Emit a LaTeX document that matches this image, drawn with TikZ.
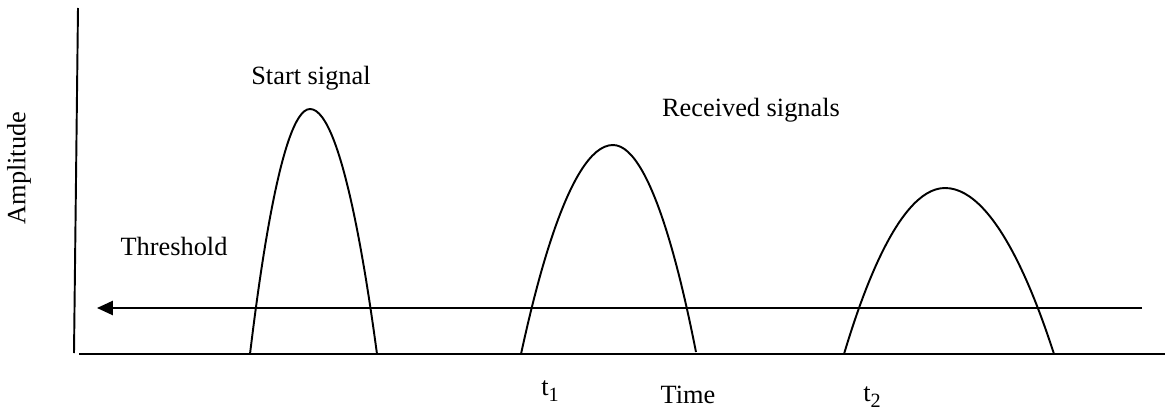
\documentclass[tikz,border=0pt]{standalone}
\usepackage{fontspec}
\setmainfont{Liberation Serif}
\usepackage{tikz}
\usetikzlibrary{arrows.meta, positioning}
\newcommand{\tsub}[1]{t\raisebox{-0.5ex}{\fontsize{11.5}{12}\selectfont #1}}
\tikzset{
  axis/.style={line width=1.1pt, black},
  pulse/.style={line width=1.1pt, black},
  threshold/.style={line width=1.1pt, black, -{Triangle[length=9pt, width=8pt]}},
  label/.style={font=\fontsize{15}{18}\selectfont, inner sep=0pt, text=black},
}
\begin{document}
\begin{tikzpicture}[x=0.02cm, y=0.02cm]
  \useasboundingbox (0,0) rectangle (1170,410);

  % axes
  \coordinate (ytop)   at (78,402);
  \coordinate (ybot)   at (74,57);
  \coordinate (xleft)  at (79,56);
  \coordinate (xright) at (1165,56);
  \draw [axis] (ytop) -- (ybot);
  \draw [axis] (xleft) -- (xright);

  % threshold line
  \coordinate (thrR) at (1142,102);
  \coordinate (thrL) at (97,102);
  \draw [threshold] (thrR) -- (thrL);

  % pulses
  \draw [pulse] (250,56) parabola bend (310,301) (377,56);
  \draw [pulse] (521,56) parabola bend (613,265) (696,58);
  \draw [pulse] (844,56) parabola bend (945,222) (1054,56);

  % labels
  \node (start)  [label] at (311,332) {Start signal};
  \node (recv)   [label] at (751,300) {Received signals};
  \node (thr)    [label] at (174,164) {Threshold};
  \node (amp)    [label, rotate=90] at (19,242) {Amplitude};
  \node (tone)   [label] at (550,19) {\tsub{1}};
  \node (time)   [label] at (688,15) {Time};
  \node (ttwo)   [label] at (872,13) {\tsub{2}};
\end{tikzpicture}
\end{document}
